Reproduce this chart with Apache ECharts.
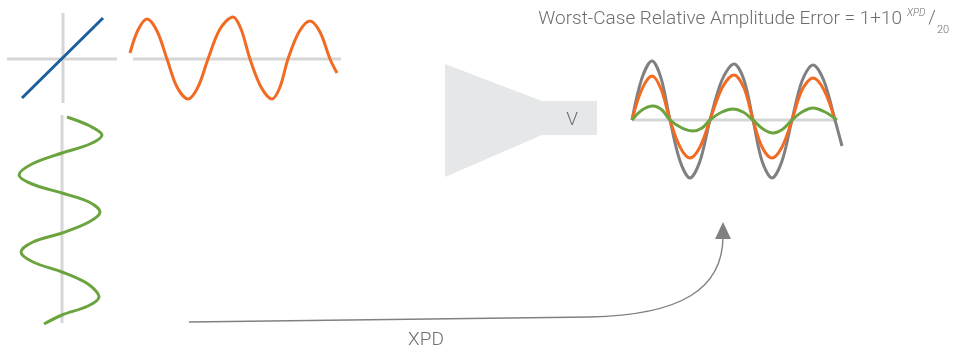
<!DOCTYPE html>
<html>
<head>
<meta charset="utf-8">
<script src="https://cdn.jsdelivr.net/npm/echarts@6/dist/echarts.min.js"></script>
<style>html,body{margin:0;padding:0;background:#fff}#c{width:954px;height:348px}</style>
</head>
<body>
<div id="c"></div>
<script>
// ---- data (amplitudes relative to each panel's axis) ----
// input polarisation (blue, diagonal)
const blueX = [-41, 40];
const blueY = [-39, 41];
// horizontal (co-polar) component, orange
const orangeX = [1, 9, 18, 28, 38, 48, 59, 69, 79, 91, 104, 112, 121, 132, 143, 151, 159, 170, 181, 191, 201, 208];
const orangeY = [6, 29, 40, 28, 0, -28, -40, -28, 0, 30, 42, 30, 0, -28, -40, -28, 0, 27, 38, 27, 0, -14];
// vertical (cross-polar) component, green, drawn downward
const greenVAmp = [5, 28, 40, 28, 0, -30, -43, -30, 0, 27, 38, 27, 0, -29, -41, -29, 0, 26, 37, 26, 0, -18];
const greenVPos = [7, 16, 25, 34, 43, 54, 65, 74, 83, 92, 102, 112, 123, 132, 142, 152, 162, 174, 187, 196, 205, 214];
// output waves
const outX       = [0, 10, 20, 29, 38, 48, 58, 68, 78, 90, 102, 112, 121, 130, 140, 150, 160, 170, 181, 192, 203, 210];
const outGrayY   = [0, 42, 59, 42, 0, -41, -58, -41, 0, 40, 56, 40, 0, -41, -58, -41, 0, 39, 55, 39, 0, -26];
const outOrangeY = [0, 31, 44, 31, 0, -27, -38, -27, 0, 32, 45, 32, 0, -27, -38, -27, 0, 30, 42, 30, 0];
const outGreenX  = [0, 10, 21, 30, 38, 50, 61, 70, 78, 90, 101, 111, 121, 131, 141, 151, 160, 170, 181, 193, 205];
const outGreenY  = [0, 10, 14, 10, 0, -8, -11, -8, 0, 8, 11, 8, 0, -9, -13, -9, 0, 8, 12, 8, 0];
// labels
const titleText = 'Worst-Case Relative Amplitude Error = 1+10';
const supText = 'XPD';
const slashText = '/';
const subText = '20';
const ampLabel = 'V';
const arrowLabel = 'XPD';

const GRAYLINE = '#d6d6d6', BLUE = '#1c5f9c', ORANGE = '#f26b23', GREEN = '#6ba43f', GRAY = '#808082', TXT = '#6d6e71';
const SMOOTH = 0.33;
const zip = (a, b) => a.map((v, i) => [v, b[i]]);

const grids = [
  {left: 7, top: 13, width: 110, height: 90},    // crosshair
  {left: 129, top: 13, width: 212, height: 92},  // orange
  {left: 12, top: 110, width: 100, height: 220}, // green vertical
  {left: 632, top: 50, width: 215, height: 140}  // output
];
const xAxes = [
  {gridIndex: 0, type: 'value', min: -56, max: 54, show: false},
  {gridIndex: 1, type: 'value', min: 0, max: 212, show: false},
  {gridIndex: 2, type: 'value', min: -50, max: 50, show: false},
  {gridIndex: 3, type: 'value', min: 0, max: 215, show: false}
];
const yAxes = [
  {gridIndex: 0, type: 'value', min: -44, max: 46, show: false},
  {gridIndex: 1, type: 'value', min: -46, max: 46, show: false},
  {gridIndex: 2, type: 'value', min: 0, max: 220, inverse: true, show: false},
  {gridIndex: 3, type: 'value', min: -70, max: 70, show: false}
];
function line(i, data, color, width, smooth) {
  return {type: 'line', xAxisIndex: i, yAxisIndex: i, data, symbol: 'none', smooth: smooth || false,
    lineStyle: {color, width}, silent: true, animation: false};
}
const series = [
  line(0, [[-56, 0], [54, 0]], GRAYLINE, 3),
  line(0, [[0, -44], [0, 46]], GRAYLINE, 3),
  line(0, zip(blueX, blueY), BLUE, 3),
  line(1, [[4, 0], [212, 0]], GRAYLINE, 3),
  line(1, zip(orangeX, orangeY), ORANGE, 3, SMOOTH),
  line(2, [[0, 5], [0, 213]], GRAYLINE, 3),
  line(2, zip(greenVAmp, greenVPos), GREEN, 3, SMOOTH),
  line(3, [[0, 0], [205, 0]], GRAYLINE, 3),
  line(3, zip(outX, outGrayY), GRAY, 3, SMOOTH),
  line(3, zip(outX, outOrangeY), ORANGE, 3, SMOOTH),
  line(3, zip(outGreenX, outGreenY), GREEN, 3, SMOOTH)
];
const font = 'Roboto, "Liberation Sans", sans-serif';
const graphic = [
  {type: 'polygon', shape: {points: [[445, 64], [542, 101], [597, 101], [597, 135], [542, 135], [445, 177]]},
   style: {fill: '#e6e7e8'}, silent: true},
  {type: 'text', x: 572, y: 120, style: {text: ampLabel, fill: TXT, font: '300 19px ' + font, align: 'center', verticalAlign: 'middle'}},
  {type: 'line', shape: {x1: 189, y1: 322, x2: 590, y2: 317}, style: {stroke: GRAY, lineWidth: 1.4}, silent: true},
  {type: 'bezierCurve', shape: {x1: 590, y1: 317, cpx1: 680, cpy1: 315, cpx2: 723, cpy2: 290, x2: 723, y2: 236},
   style: {fill: null, stroke: GRAY, lineWidth: 1.4}, silent: true},
  {type: 'polygon', shape: {points: [[723, 222], [731, 239], [715, 239]]}, style: {fill: GRAY}, silent: true},
  {type: 'text', x: 426, y: 340, style: {text: arrowLabel, fill: TXT, font: '300 19px ' + font, align: 'center', verticalAlign: 'middle'}},
  {type: 'text', x: 902, y: 19, style: {text: titleText, fill: TXT, font: '300 19px ' + font, align: 'right', verticalAlign: 'middle'}},
  {type: 'text', x: 907, y: 13, style: {text: supText, fill: TXT, font: 'italic 300 10px ' + font, align: 'left', verticalAlign: 'middle'}},
  {type: 'text', x: 932, y: 18, style: {text: slashText, fill: TXT, font: '300 19px ' + font, align: 'center', verticalAlign: 'middle'}},
  {type: 'text', x: 937, y: 30, style: {text: subText, fill: TXT, font: '300 11px ' + font, align: 'left', verticalAlign: 'middle'}}
];
const chart = echarts.init(document.getElementById('c'), null, {renderer: 'canvas'});
chart.setOption({backgroundColor: '#fff', animation: false, grid: grids, xAxis: xAxes, yAxis: yAxes, series, graphic});
</script>
</body>
</html>
